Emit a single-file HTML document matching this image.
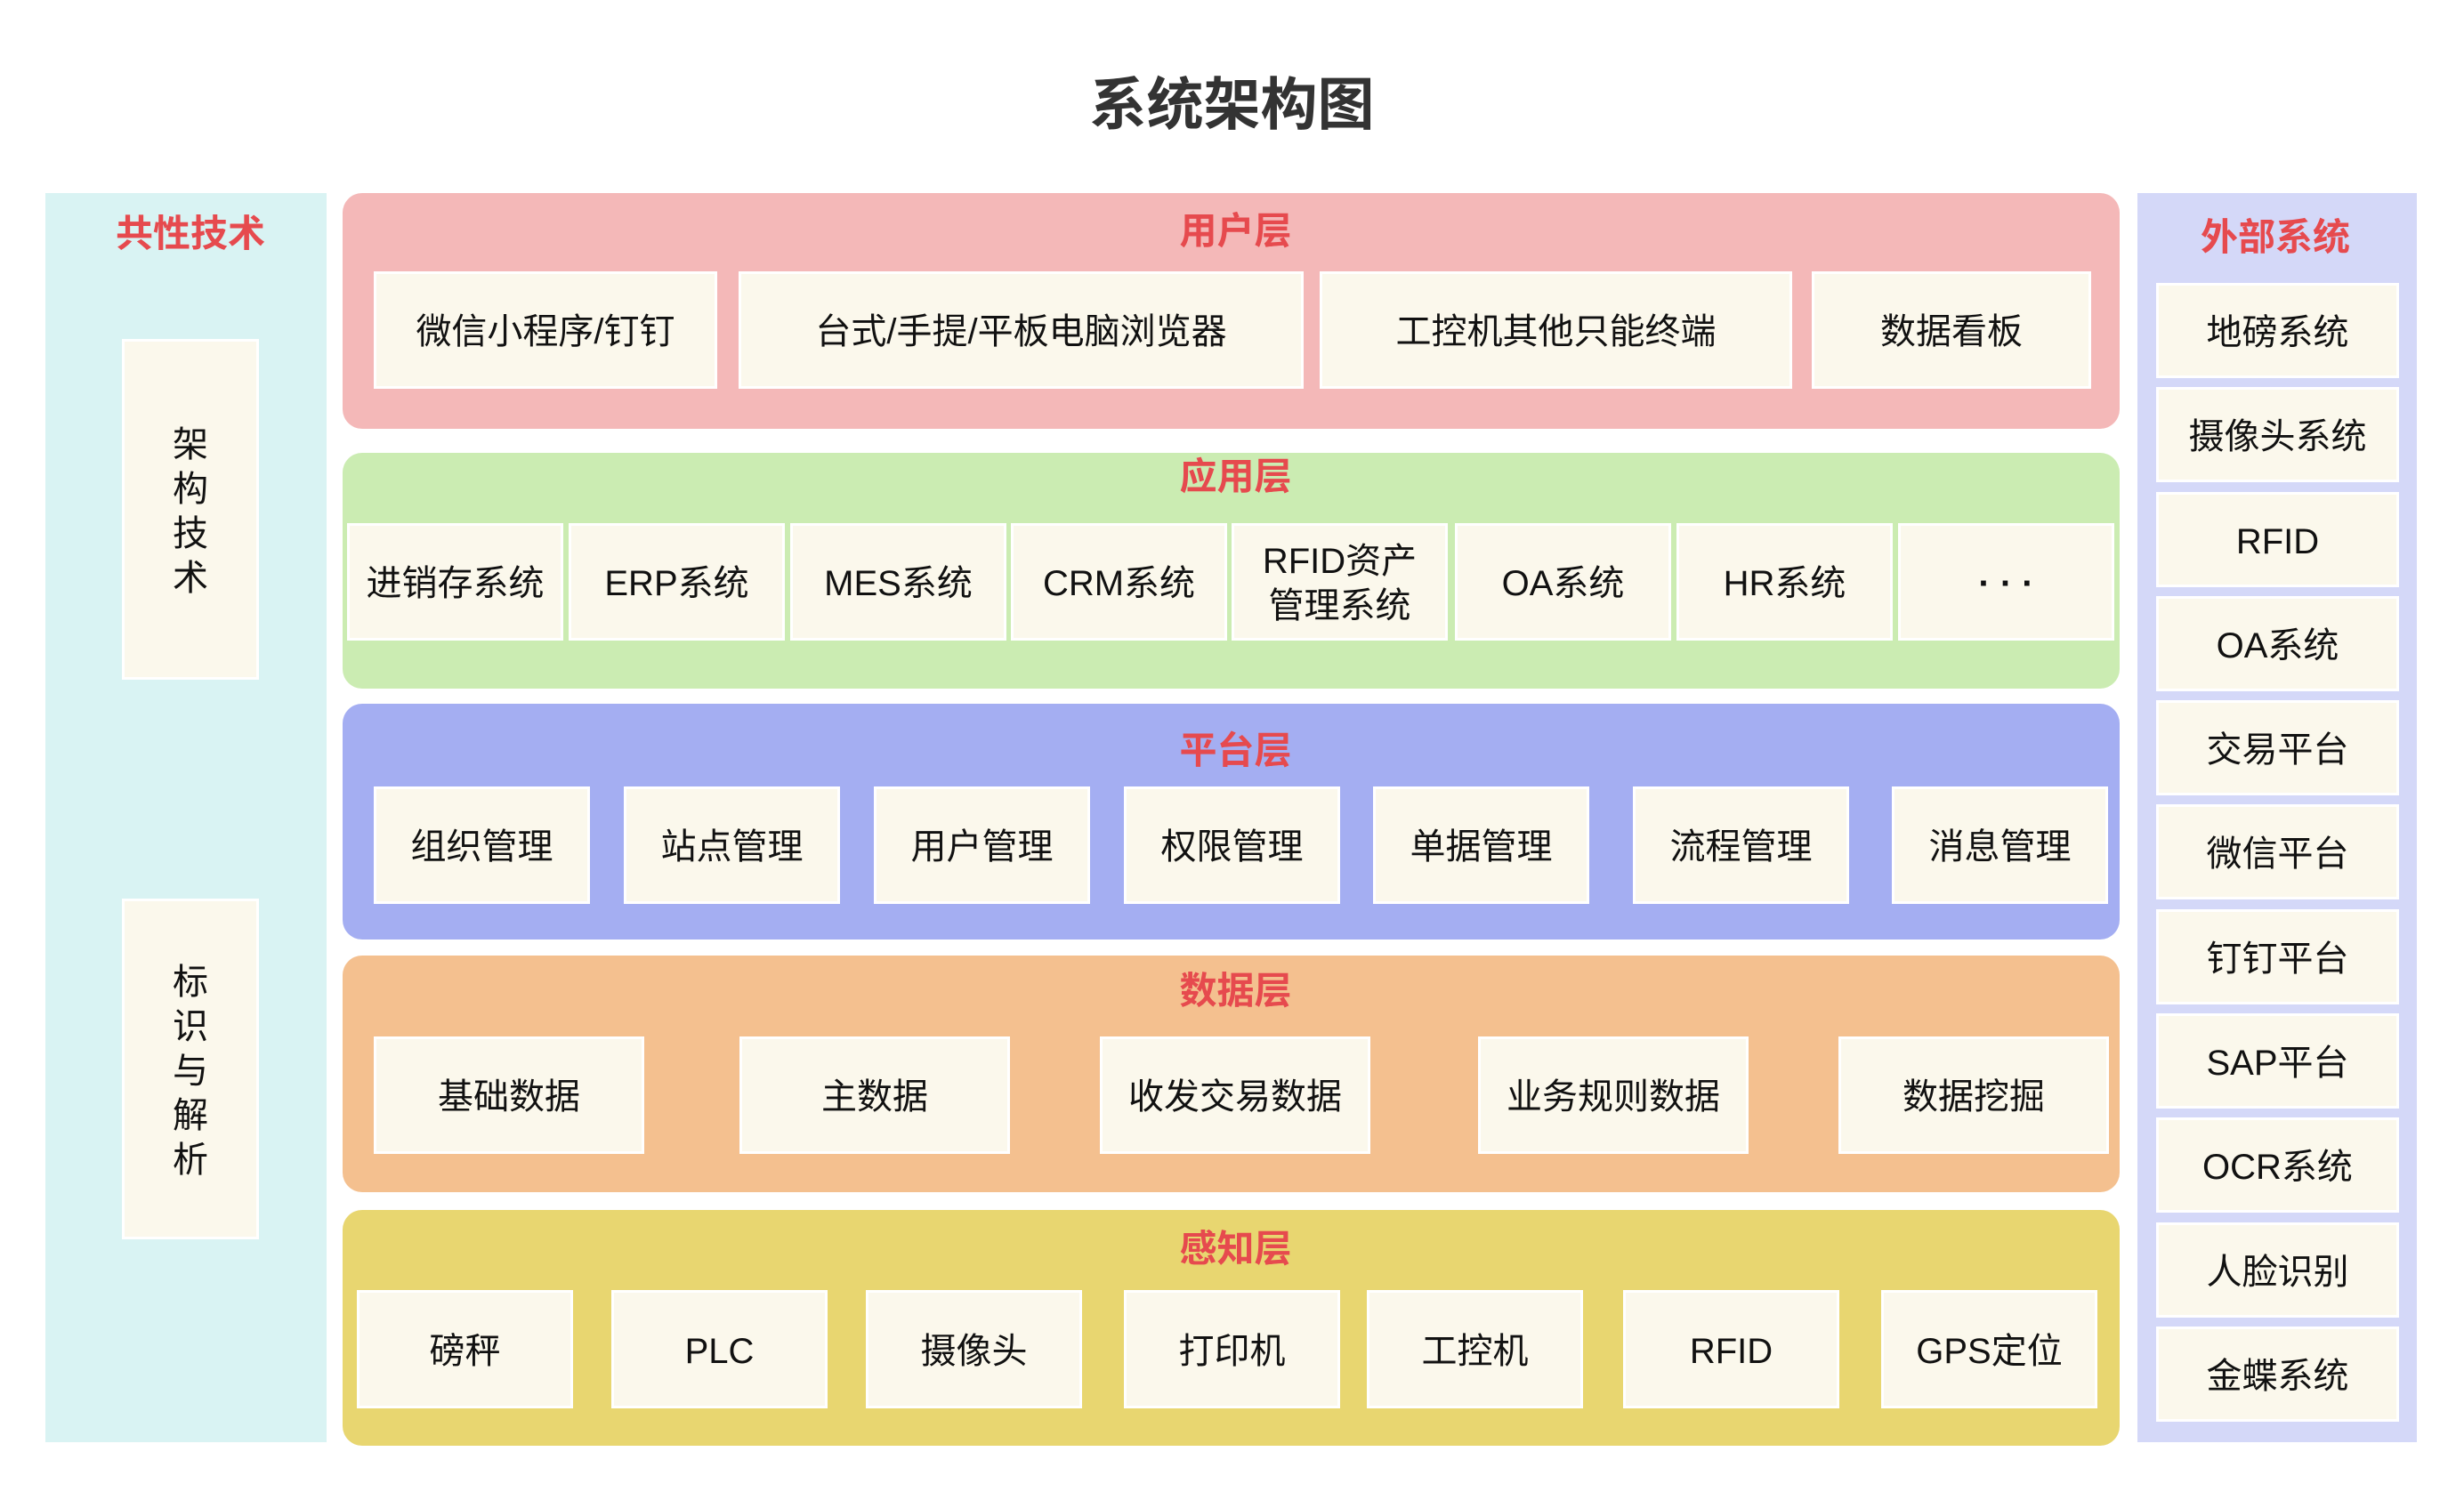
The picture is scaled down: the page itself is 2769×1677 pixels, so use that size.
<!DOCTYPE html>
<html><head><meta charset="utf-8">
<style>
html,body{margin:0;padding:0;background:#fff;}
body{width:2769px;height:1677px;position:relative;overflow:hidden;font-family:"Liberation Sans","Noto Sans CJK SC",sans-serif;}
.a{position:absolute;box-sizing:border-box;}
.b{position:absolute;box-sizing:border-box;background:#fbf8ec;border:3px solid #fff;display:flex;align-items:center;justify-content:center;text-align:center;font-size:40px;color:#111;line-height:1.25;padding-top:4px;}
.layer{position:absolute;left:385px;width:1997px;border-radius:22px;}
.t{position:absolute;left:390px;width:1997px;text-align:center;font-weight:bold;color:#e64a4e;font-size:42px;line-height:1;}
.v{flex-direction:column;line-height:50px;}
</style></head><body>
<div class="a" style="left:0;top:78px;width:2769px;text-align:center;font-size:64px;font-weight:bold;color:#333;line-height:80px;">系统架构图</div>

<div class="a" style="left:51px;top:217px;width:316px;height:1404px;background:#d9f3f3;"></div>
<div class="a" style="left:56px;top:242px;width:316px;text-align:center;font-size:42px;font-weight:bold;color:#e64a4e;line-height:1;">共性技术</div>
<div class="b v" style="left:137px;top:381px;width:154px;height:383px;">架<br>构<br>技<br>术</div>
<div class="b v" style="left:137px;top:1010px;width:154px;height:383px;">标<br>识<br>与<br>解<br>析</div>

<div class="a" style="left:2402px;top:217px;width:314px;height:1404px;background:#d4d8f8;"></div>
<div class="a" style="left:2400px;top:246px;width:314px;text-align:center;font-size:42px;font-weight:bold;color:#e64a4e;line-height:1;">外部系统</div>
<div class="b" style="left:2423px;top:318px;width:273px;height:107px;">地磅系统</div>
<div class="b" style="left:2423px;top:435px;width:273px;height:107px;">摄像头系统</div>
<div class="b" style="left:2423px;top:553px;width:273px;height:107px;">RFID</div>
<div class="b" style="left:2423px;top:670px;width:273px;height:107px;">OA系统</div>
<div class="b" style="left:2423px;top:787px;width:273px;height:107px;">交易平台</div>
<div class="b" style="left:2423px;top:904px;width:273px;height:107px;">微信平台</div>
<div class="b" style="left:2423px;top:1022px;width:273px;height:107px;">钉钉平台</div>
<div class="b" style="left:2423px;top:1139px;width:273px;height:107px;">SAP平台</div>
<div class="b" style="left:2423px;top:1256px;width:273px;height:107px;">OCR系统</div>
<div class="b" style="left:2423px;top:1374px;width:273px;height:107px;">人脸识别</div>
<div class="b" style="left:2423px;top:1491px;width:273px;height:107px;">金蝶系统</div>

<!-- user layer -->
<div class="layer" style="top:217px;height:265px;background:#f4b8b8;"></div>
<div class="t" style="top:239px;">用户层</div>
<div class="b" style="left:420px;top:305px;width:386px;height:132px;">微信小程序/钉钉</div>
<div class="b" style="left:830px;top:305px;width:635px;height:132px;">台式/手提/平板电脑浏览器</div>
<div class="b" style="left:1483px;top:305px;width:531px;height:132px;">工控机其他只能终端</div>
<div class="b" style="left:2036px;top:305px;width:314px;height:132px;">数据看板</div>

<!-- app layer -->
<div class="layer" style="top:509px;height:265px;background:#cbecb2;"></div>
<div class="t" style="top:515px;">应用层</div>
<div class="b" style="left:390px;top:588px;width:243px;height:132px;">进销存系统</div>
<div class="b" style="left:639px;top:588px;width:243px;height:132px;">ERP系统</div>
<div class="b" style="left:888px;top:588px;width:243px;height:132px;">MES系统</div>
<div class="b" style="left:1136px;top:588px;width:243px;height:132px;">CRM系统</div>
<div class="b" style="left:1384px;top:588px;width:243px;height:132px;">RFID资产<br>管理系统</div>
<div class="b" style="left:1635px;top:588px;width:243px;height:132px;">OA系统</div>
<div class="b" style="left:1884px;top:588px;width:243px;height:132px;">HR系统</div>
<div class="b" style="left:2133px;top:588px;width:243px;height:132px;font-weight:bold;">· · ·</div>

<!-- platform -->
<div class="layer" style="top:791px;height:265px;background:#a4aef2;"></div>
<div class="t" style="top:823px;">平台层</div>
<div class="b" style="left:420px;top:884px;width:243px;height:132px;">组织管理</div>
<div class="b" style="left:701px;top:884px;width:243px;height:132px;">站点管理</div>
<div class="b" style="left:982px;top:884px;width:243px;height:132px;">用户管理</div>
<div class="b" style="left:1263px;top:884px;width:243px;height:132px;">权限管理</div>
<div class="b" style="left:1543px;top:884px;width:243px;height:132px;">单据管理</div>
<div class="b" style="left:1835px;top:884px;width:243px;height:132px;">流程管理</div>
<div class="b" style="left:2126px;top:884px;width:243px;height:132px;">消息管理</div>

<!-- data -->
<div class="layer" style="top:1074px;height:266px;background:#f4c08f;"></div>
<div class="t" style="top:1093px;">数据层</div>
<div class="b" style="left:420px;top:1165px;width:304px;height:132px;">基础数据</div>
<div class="b" style="left:831px;top:1165px;width:304px;height:132px;">主数据</div>
<div class="b" style="left:1236px;top:1165px;width:304px;height:132px;">收发交易数据</div>
<div class="b" style="left:1661px;top:1165px;width:304px;height:132px;">业务规则数据</div>
<div class="b" style="left:2066px;top:1165px;width:304px;height:132px;">数据挖掘</div>

<!-- perception -->
<div class="layer" style="top:1360px;height:265px;background:#e8d670;"></div>
<div class="t" style="top:1383px;">感知层</div>
<div class="b" style="left:401px;top:1450px;width:243px;height:133px;">磅秤</div>
<div class="b" style="left:687px;top:1450px;width:243px;height:133px;">PLC</div>
<div class="b" style="left:973px;top:1450px;width:243px;height:133px;">摄像头</div>
<div class="b" style="left:1263px;top:1450px;width:243px;height:133px;">打印机</div>
<div class="b" style="left:1536px;top:1450px;width:243px;height:133px;">工控机</div>
<div class="b" style="left:1824px;top:1450px;width:243px;height:133px;">RFID</div>
<div class="b" style="left:2114px;top:1450px;width:243px;height:133px;">GPS定位</div>
</body></html>
